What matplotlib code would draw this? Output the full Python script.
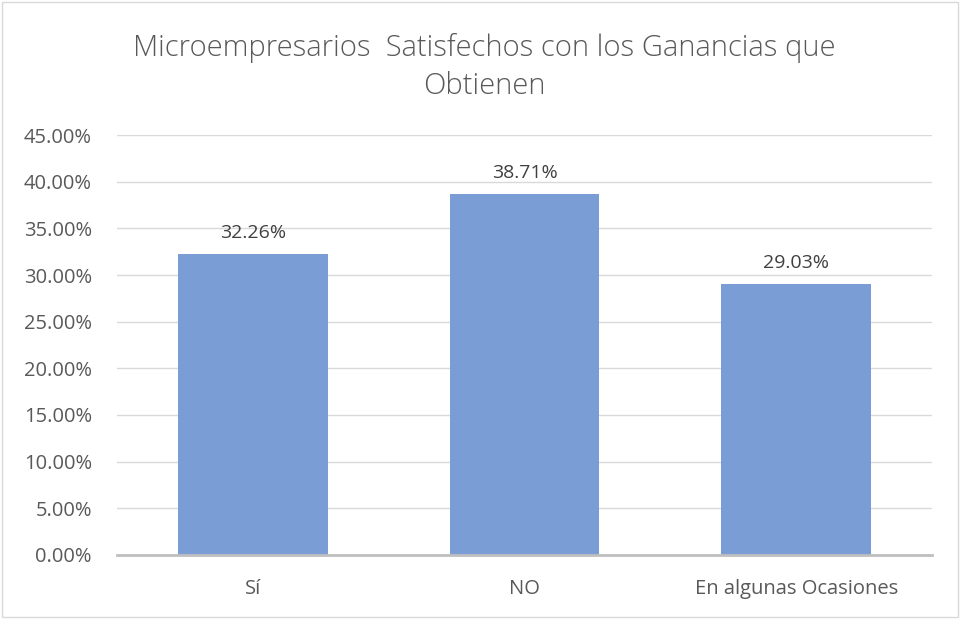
import matplotlib.pyplot as plt
from matplotlib.patches import Rectangle
from matplotlib.ticker import PercentFormatter

categorias = ['Sí', 'NO', 'En algunas Ocasiones']
porcentajes = [32.26, 38.71, 29.03]
ticks = [0, 5, 10, 15, 20, 25, 30, 35, 40, 45]

plt.rcParams['font.family'] = ['Open Sans', 'DejaVu Sans']

fig = plt.figure(figsize=(9.61, 6.19), dpi=100)
ax = fig.add_axes([117 / 961, 64 / 619, 815 / 961, 420 / 619])

x = range(len(categorias))
bars = ax.bar(x, porcentajes, width=0.55, color='#7A9DD6', zorder=3)
for b, v in zip(bars, porcentajes):
    ax.text(b.get_x() + b.get_width() / 2, v + 1.3, f'{v:.2f}%',
            ha='center', va='bottom', fontsize=14, color='#404040')

ax.set_xlim(-0.5, len(categorias) - 0.5)
ax.set_ylim(0, 45)
ax.set_yticks(ticks)
ax.yaxis.set_major_formatter(PercentFormatter(decimals=2))
ax.set_xticks(list(x))
ax.set_xticklabels(categorias)
ax.tick_params(axis='both', length=0, labelsize=14.5, labelcolor='#595959')
ax.tick_params(axis='x', pad=17)
ax.tick_params(axis='y', pad=18)
ax.grid(axis='y', color='#D9D9D9', lw=1, zorder=0)
for s in ['top', 'right', 'left']:
    ax.spines[s].set_visible(False)
ax.spines['bottom'].set_color('#BFBFBF')
ax.spines['bottom'].set_linewidth(2)
ax.spines['bottom'].set_zorder(4)

fig.text(484 / 961, 1 - 67 / 619,
         'Microempresarios  Satisfechos con los Ganancias que\nObtienen',
         ha='center', va='center', fontsize=21, color='#595959',
         linespacing=1.4, fontweight='light')

fig.patches.append(Rectangle((2 / 961, 2 / 619), 956 / 961, 615 / 619,
                             transform=fig.transFigure, fill=False,
                             edgecolor='#D9D9D9', lw=1))

fig.savefig('out.png', dpi=100)
